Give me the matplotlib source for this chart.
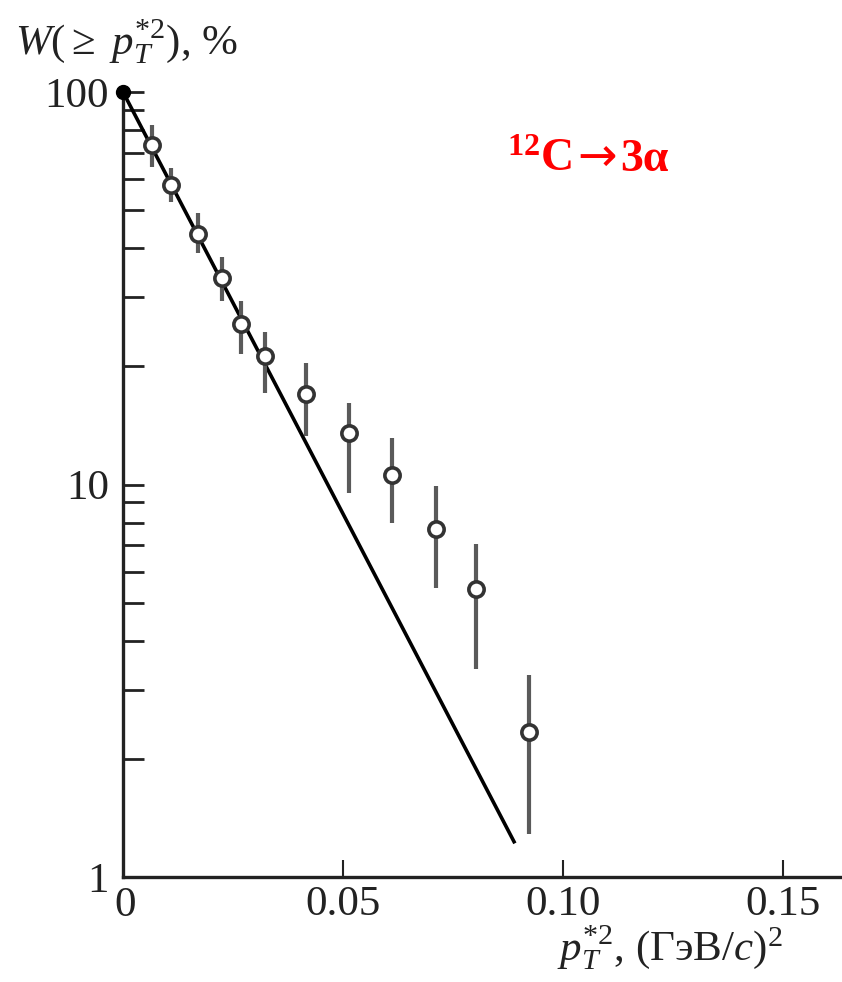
import numpy as np
import matplotlib.pyplot as plt
from matplotlib.ticker import LogLocator, FixedLocator, NullFormatter

plt.rcParams['font.family'] = ['Liberation Serif', 'DejaVu Sans']
plt.rcParams['mathtext.fontset'] = 'custom'
plt.rcParams['mathtext.rm'] = 'Liberation Serif'
plt.rcParams['mathtext.it'] = 'Liberation Serif:italic'
plt.rcParams['mathtext.bf'] = 'Liberation Serif:bold'

# measured points, W in %
pt2 = [0.0066, 0.0109, 0.0170, 0.0225, 0.0268, 0.0323, 0.0416, 0.0514, 0.0611, 0.0711, 0.0802, 0.0923]
w = [73.2, 57.8, 43.6, 33.5, 25.7, 21.3, 17.0, 13.5, 10.6, 7.69, 5.41, 2.34]
w_hi = [82.4, 64.0, 49.3, 37.9, 29.4, 24.4, 20.4, 16.1, 13.1, 9.9, 7.05, 3.28]
w_lo = [64.3, 52.4, 38.8, 29.4, 21.5, 17.1, 13.3, 9.5, 7.98, 5.45, 3.38, 1.29]

# fitted line (straight in log scale)
fit_x = [0.0, 0.0889]
fit_y = [100.0, 1.23]

xticks = [0.05, 0.10, 0.15]
xtick_labels = ['0.05', '0.10', '0.15']

fig = plt.figure(figsize=(8.42, 9.82), dpi=100)
ax = fig.add_axes([0.1461, 0.1069, 0.8515, 0.7994])

w = np.array(w)
yerr = [w - np.array(w_lo), np.array(w_hi) - w]

ax.plot(fit_x, fit_y, color='black', lw=2.6, zorder=2)
ax.errorbar(pt2, w, yerr=yerr, fmt='o', ms=11, mfc='white', mec='#333333', mew=2.6,
            ecolor='#5a5a5a', elinewidth=3, capsize=0, zorder=3)
ax.plot([0.0], [100.0], 'o', color='black', ms=10, clip_on=False, zorder=4)

ax.set_yscale('log')
ax.set_xlim(0, 0.163)
ax.set_ylim(1, 100)

for s in ['top', 'right']:
    ax.spines[s].set_visible(False)
for s in ['left', 'bottom']:
    ax.spines[s].set_linewidth(2.4)
    ax.spines[s].set_color('#222222')

ax.yaxis.set_major_locator(FixedLocator([1, 10, 100]))
ax.set_yticklabels(['1', '10', '100'])
ax.yaxis.set_minor_locator(LogLocator(base=10, subs=np.arange(2, 10)))
ax.yaxis.set_minor_formatter(NullFormatter())
ax.set_xticks(xticks)
ax.set_xticklabels(xtick_labels)
ax.xaxis.set_minor_locator(FixedLocator([]))

ax.tick_params(axis='y', which='both', direction='in', length=15, width=2, color='#222222',
               labelsize=31, pad=10, labelcolor='#222222')
ax.tick_params(axis='x', which='major', direction='in', length=12, width=1.5, color='#222222',
               labelsize=31, pad=6, labelcolor='#222222')
ax.text(0.0005, -0.036, '0', transform=ax.get_xaxis_transform(), ha='center', va='center',
        fontsize=31, color='#222222')

fig.text(0.018, 0.957, r'$W(\geq\ p_T^{*2})$, %', fontsize=31, ha='left', va='center', color='#222222')
fig.text(0.93, 0.035, r'$p_T^{*2}$, (ГэВ/$c$)$^2$', fontsize=31, ha='right', va='center', color='#222222')

# reaction label: 12C -> 3alpha
fig.text(0.680, 0.837, r'$^{\mathbf{12}}$C', fontsize=33, fontweight='bold', color='red',
         ha='right', va='center')
fig.text(0.709, 0.839, '→', fontsize=34, family=['DejaVu Sans'], color='red',
         ha='center', va='center')
fig.text(0.737, 0.837, '3α', fontsize=33, fontweight='bold', color='red',
         ha='left', va='center')

fig.savefig('out.png', dpi=100)
